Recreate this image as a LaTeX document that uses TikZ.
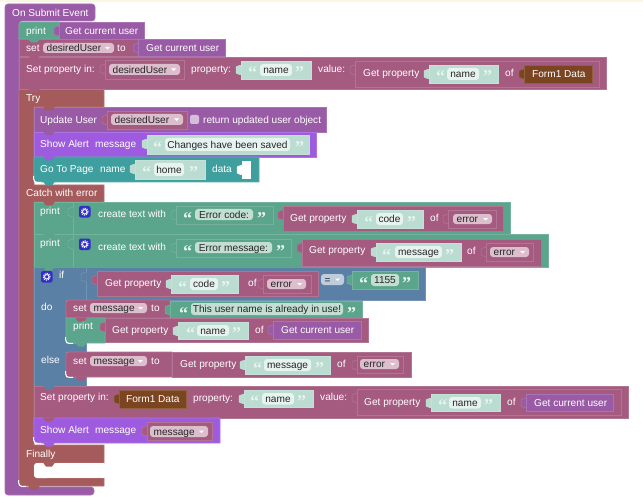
\documentclass[tikz,border=0pt]{standalone}
\usepackage{fontspec}
\setmainfont{Liberation Sans}
\newfontfamily\qfont{Liberation Serif}
\definecolor{cEvent}{HTML}{995BA5}
\definecolor{cProp}{HTML}{A55B80}
\definecolor{cText}{HTML}{5BA58C}
\definecolor{cTry}{HTML}{A55B5B}
\definecolor{cLogic}{HTML}{5B80A5}
\definecolor{cAlert}{HTML}{9F5BDF}
\definecolor{cPage}{HTML}{3F9F9F}
\definecolor{cBrown}{HTML}{7A4520}
\definecolor{cStr}{HTML}{BBDCD0}
\definecolor{cFld}{HTML}{E7F3EE}
\definecolor{cFldG}{HTML}{C3DED3}
\definecolor{cDd}{HTML}{DCBECD}
\definecolor{cDdB}{HTML}{BECCDC}
\definecolor{cGear}{HTML}{3030C8}
\definecolor{cTop}{HTML}{FDF6E1}
\newcounter{nc}
\tikzset{
  blkst/.style={fill=#1,draw=#1!85!white,line width=.6pt},
  lbl/.style={anchor=base west,inner sep=0pt,yshift=-3.6pt,text=white,font=\fontsize{10.1}{12}\selectfont},
  fldtxt/.style={anchor=base,inner sep=0pt,yshift=-3.6pt,text=black!85,font=\fontsize{10.1}{12}\selectfont},
  qtxt/.style={anchor=base west,inner sep=0pt,yshift=-10pt,text=#1,font=\qfont\bfseries\fontsize{18}{18}\selectfont},
}
% block
\newcommand{\blk}[6][]{\path[blkst={#6},#1] (#2,#3) rectangle (#4,#5);}
% blocks with a rounded left corner: both, top only, bottom only
\newcommand{\lblk}[5]{\path[blkst={#5}] (#3,#2) [rounded corners=3pt] -- (#1,#2) -- (#1,#4) [sharp corners] -- (#3,#4) -- cycle;}
\newcommand{\tblk}[5]{\path[blkst={#5}] (#3,#2) [rounded corners=3pt] -- (#1,#2) [sharp corners] -- (#1,#4) -- (#3,#4) -- cycle;}
\newcommand{\bblk}[5]{\path[blkst={#5}] (#1,#2) [rounded corners=3pt] -- (#1,#4) [sharp corners] -- (#3,#4) -- (#3,#2) -- cycle;}
% white shade along a rounded bottom-left corner
\newcommand{\wc}[2]{\path[draw=white,line width=1pt] (#1-.3,#2-6) -- (#1-.3,#2-3) .. controls (#1-.3,#2-1) and (#1+1,#2+.4) .. (#1+3,#2+.4) -- (#1+7,#2+.4);}
% output tab on the left of a block
\newcommand{\tabb}[3]{\path[fill=#3,draw=#3!85!white,line width=.5pt] (#1+.5,#2+4) -- (#1-3,#2+5) -- (#1-5,#2+6) -- (#1-5,#2+12) -- (#1-3,#2+13) -- (#1+.5,#2+14);}
% output block = tab + body
\newcommand{\oblk}[5]{\tabb{#1}{#2}{#5}\blk{#1}{#2}{#3}{#4}{#5}}
% statement notch below a block
\newcommand{\ntc}[3]{\path[fill=#3] (#1+9,#2-.5) -- (#1+12,#2+3.5) -- (#1+18,#2+3.5) -- (#1+21,#2-.5) -- cycle;}
% label
\newcommand{\lbl}[3]{\stepcounter{nc}\node[lbl] (n\arabic{nc}) at (#1,#2) {#3};}
% text field centred in a rounded box
\newcommand{\fld}[6][cFld]{\path[fill=#1,rounded corners=3pt] (#2,#3) rectangle (#4,#5);
  \stepcounter{nc}\node[fldtxt] (n\arabic{nc}) at ({(#2+#4)/2},{(#3+#5)/2}) {#6};}
% quote marks
\newcommand{\qq}[4][cFld]{\stepcounter{nc}\node[qtxt=#1] (n\arabic{nc}) at (#2,#4) {“};
  \stepcounter{nc}\node[qtxt=#1] (n\arabic{nc}) at (#3,#4) {”};}
% dropdown
\newcommand{\dd}[6][cDd]{\path[fill=#1,rounded corners=3pt] (#2,#3) rectangle (#4,#5);
  \stepcounter{nc}\node[lbl,text=black!85] (n\arabic{nc}) at (#2+3.5,{(#3+#5)/2}) {#6};
  \path[fill=white] (#4-9,{(#3+#5)/2-1}) -- (#4-4,{(#3+#5)/2-1}) -- (#4-6.5,{(#3+#5)/2+1.5}) -- cycle;}
% mutator gear
\newcommand{\gear}[2]{\path[fill=cGear,rounded corners=2pt] (#1,#2) rectangle (#1+11.5,#2+11.5);
  \path[draw=white,line width=1.1pt,densely dotted] (#1+5.75,#2+5.75) circle (3.4pt);
  \path[draw=white,line width=.9pt] (#1+5.75,#2+5.75) circle (2.2pt);}
% string block with light body
\newcommand{\strb}[9]{\oblk{#1}{#2}{#3}{#4}{cStr}\qq{#5}{#6}{{(#2+#4)/2-1}}\fld{#7}{#2+3}{#8}{#4-3}{#9}}
\begin{document}
\begin{tikzpicture}[x=1pt,y=-1pt]
\useasboundingbox (0,0) rectangle (643,500);
\fill[cTop] (0,0) rectangle (643,2);

% ---- event hat
\path[blkst=cEvent,rounded corners=3pt] (5,4) -- (95,4) -- (95,21) -- (19,21) -- (19,487) -- (94,487) -- (94,495) -- (5,495) -- cycle;
\lbl{12}{13}{On Submit Event}

% ---- Try/Catch/Finally frame
\path[blkst=cTry] (19,89) -- (104,89) -- (104,107) -- (34,107) -- (34,185) -- (104,185) -- (104,202) -- (34,202) -- (34,445) -- (104,445) -- (104,463) -- (38,463) [rounded corners=3pt] -- (34,463) -- (34,478) [sharp corners] -- (104,478) -- (104,486) [rounded corners=3pt] -- (19,486) [sharp corners] -- cycle;
\lbl{26}{98}{Try}
\lbl{26}{193}{Catch with error}
\lbl{26}{454}{Finally}
\path[fill=white,rounded corners=3pt] (34,463) rectangle (50,478);
\path[fill=white] (45,463) rectangle (104,478);
\ntc{34}{463}{cTry}
\ntc{19}{486}{cTry}
\wc{19}{486}

% ---- print current user
\tblk{19}{22}{59}{39}{cText}
\lbl{26}{31}{print}
\oblk{59}{22}{144}{39}{cEvent}
\lbl{65}{31}{Get current user}

% ---- set desiredUser
\blk{19}{39}{138.5}{56}{cProp}
\ntc{19}{39}{cText}
\lbl{26}{48}{set}
\dd{43}{43}{114}{53}{desiredUser}
\lbl{117}{48}{to}
\oblk{138.5}{39}{225}{56}{cEvent}
\lbl{146}{48}{Get current user}

% ---- Set property in desiredUser
\blk{19}{57}{606}{89}{cProp}
\ntc{19}{56}{cProp}
\lbl{26}{69}{Set property in:}
\oblk{105}{60}{184}{79}{cProp}
\dd{109}{64}{180}{75}{desiredUser}
\lbl{191}{69}{property:}
\strb{241}{61}{311}{79}{248}{295}{260}{292}{name}
\lbl{318}{69}{value:}
\oblk{355}{61}{599}{87}{cProp}
\lbl{363}{73}{Get property}
\strb{429}{65}{498}{83}{436}{483}{447}{479}{name}
\lbl{505}{73}{of}
\oblk{524}{65}{592}{83}{cBrown}
\lbl{532}{74}{Form1 Data}

% ---- Try body
\blk{34}{107}{326}{132}{cEvent}
\ntc{19}{89}{cProp}
\ntc{34}{107}{cTry}
\lbl{40}{119.5}{Update User}
\oblk{107}{111}{187}{129}{cProp}
\dd{111}{114}{183}{125}{desiredUser}
\path[fill=cEvent!40!white,rounded corners=2pt] (190,115) rectangle (199,124);
\lbl{203}{120}{return updated user object}
\blk{34}{132}{316}{157}{cAlert}
\ntc{34}{132}{cEvent}
\lbl{40}{144}{Show Alert}
\lbl{95}{144}{message}
\strb{147}{135}{309}{154}{153}{295}{165}{290}{Changes have been saved}
\bblk{34}{157}{259}{182}{cPage}
\wc{34}{182}
\ntc{34}{157}{cAlert}
\ntc{34}{182}{cPage}
\lbl{40}{169}{Go To Page}
\lbl{100}{169}{name}
\strb{135}{160}{205}{179}{142}{189}{154}{184}{home}
\lbl{212}{169}{data}
\tabb{242}{161}{white}
\path[fill=white] (242,161) rectangle (251,179);

% ---- Catch body: print 1
\blk{34}{202}{510}{234}{cText}
\ntc{34}{202}{cTry}
\lbl{40}{211}{print}
\path[draw=cText!85!white,line width=.6pt] (73,202) -- (73,234);
\tabb{73}{203}{cText}
\gear{79}{206}
\lbl{98}{214}{create text with}
\oblk{176}{206}{273}{224}{cText}
\qq{183}{257}{214}
\fld[cFldG]{195}{209}{253}{220}{Error code:}
\oblk{283}{206}{503}{231}{cProp}
\lbl{290}{218}{Get property}
\strb{357}{210}{423}{228}{364}{407}{376}{403}{code}
\lbl{430}{218}{of}
\oblk{448}{210}{496}{228}{cProp}
\dd{453}{214}{492}{224}{error}

% ---- print 2
\blk{34}{234}{548}{267}{cText}
\ntc{34}{234}{cText}
\lbl{40}{243}{print}
\path[draw=cText!85!white,line width=.6pt] (73,234) -- (73,267);
\tabb{73}{235}{cText}
\gear{79}{238.5}
\lbl{98}{246.5}{create text with}
\oblk{176}{239}{291}{257}{cText}
\qq{183}{276}{247}
\fld[cFldG]{195}{242}{272}{253}{Error message:}
\oblk{302}{239}{541}{266}{cProp}
\lbl{309}{250}{Get property}
\strb{376}{243}{461}{261}{382}{445}{395}{442}{message}
\lbl{467}{251}{of}
\oblk{486}{243}{533}{261}{cProp}
\dd{490}{247}{529}{257}{error}

% ---- if frame
\path[blkst=cLogic] (34,267) -- (425,267) -- (425,300) -- (66,300) -- (66,343) -- (86,343) -- (86,352) -- (66,352) -- (66,377) -- (86,377) -- (86,386) -- (34,386) -- cycle;
\ntc{34}{267}{cText}
\gear{41}{271}
\lbl{59}{275}{if}
\lbl{41}{307}{do}
\lbl{41}{360}{else}
\path[draw=cLogic!85!white,line width=.6pt] (86,267) -- (86,300);
\tabb{86}{268}{cLogic}
\oblk{97}{271}{318}{296}{cProp}
\lbl{105}{282.5}{Get property}
\strb{171}{275}{238}{293}{178}{221}{190}{218}{code}
\lbl{248}{283}{of}
\oblk{263}{275}{311}{293}{cProp}
\dd{267}{279}{306}{289}{error}
\dd[cDdB]{321}{274}{344}{285}{=}
\oblk{352}{271}{418}{289}{cText}
\qq{359}{402}{279}
\fld[cFldG]{371}{274}{399}{286}{1155}

% ---- do: set message
\tblk{66}{300}{170}{318}{cProp}
\lbl{73}{308}{set}
\dd{90}{303}{147}{313}{message}
\lbl{151}{308}{to}
\oblk{170}{301}{362}{318}{cText}
\qq{179}{347}{309}
\fld[cFldG]{191}{303}{343}{315}{This user name is already in use!}
% ---- do: print
\bblk{66}{318}{105}{343}{cText}
\wc{66}{343}
\ntc{66}{318}{cProp}
\ntc{66}{343}{cText}
\lbl{73}{326}{print}
\oblk{105}{318}{368}{342}{cProp}
\lbl{112}{329.5}{Get property}
\strb{178}{322}{248}{339}{186}{232}{197}{229}{name}
\lbl{255}{330}{of}
\oblk{273}{321}{361}{339}{cEvent}
\lbl{281}{330}{Get current user}

% ---- else
\lblk{66}{352}{172}{377}{cProp}
\wc{66}{377}
\ntc{66}{377}{cProp}
\lbl{73}{361}{set}
\dd{90}{356}{147}{366}{message}
\lbl{151}{361}{to}
\blk{172}{352}{411}{377}{cProp}
\lbl{180}{363.5}{Get property}
\strb{245}{356}{330}{374}{253}{315}{264}{311}{message}
\lbl{337}{364}{of}
\oblk{357}{356}{403}{373}{cProp}
\dd{360}{359}{399}{369}{error}

% ---- Set property in Form1 Data
\blk{34}{386}{628}{418}{cProp}
\ntc{34}{386}{cLogic}
\lbl{40}{397}{Set property in:}
\oblk{119}{390}{186}{408}{cBrown}
\lbl{126}{398.5}{Form1 Data}
\lbl{193}{397.5}{property:}
\strb{244}{390}{313}{407.5}{250}{297}{262}{294}{name}
\lbl{320}{397}{value:}
\oblk{357}{389}{621}{415}{cProp}
\lbl{364}{402}{Get property}
\strb{431}{394}{500}{411.5}{438}{484}{449}{481}{name}
\lbl{507}{401.5}{of}
\oblk{526}{394}{613}{411}{cEvent}
\lbl{534}{402.5}{Get current user}

% ---- Show Alert 2
\bblk{34}{418}{220}{443}{cAlert}
\wc{34}{443}
\ntc{34}{418}{cProp}
\ntc{34}{443}{cAlert}
\lbl{40}{430}{Show Alert}
\lbl{95}{430}{message}
\oblk{147}{422}{212}{440}{cProp}
\dd{150}{426}{208}{437}{message}
\end{tikzpicture}
\end{document}
